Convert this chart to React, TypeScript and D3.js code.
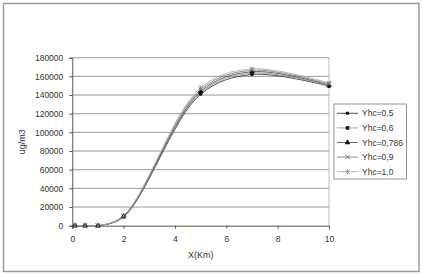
import { useEffect, useRef } from 'react';
import * as d3 from 'd3';

const xValues = [0.1, 0.5, 1, 2, 5, 7, 10];
const seriesNames = ['Yhc=0,5', 'Yhc=0,6', 'Yhc=0,786', 'Yhc=0,9', 'Yhc=1,0'];
const yhc05 = [0, 0, 0, 9500, 141000, 162000, 149500];
const yhc06 = [0, 0, 0, 9800, 142500, 163500, 150000];
const yhc0786 = [0, 0, 0, 10000, 144000, 165000, 150800];
const yhc09 = [0, 0, 0, 10500, 146000, 166500, 151800];
const yhc10 = [0, 0, 0, 11000, 148000, 168000, 152800];
const xTicks = [0, 2, 4, 6, 8, 10];
const yTicks = [0, 20000, 40000, 60000, 80000, 100000, 120000, 140000, 160000, 180000];

const lineColors = ['#3a3a3a', '#9a9a9a', '#555555', '#808080', '#b0b0b0'];
const markerShapes = ['circle', 'square', 'triangle', 'x', 'star'];

function drawMarker(g, shape, x, y) {
  if (shape === 'circle') {
    g.append('circle').attr('cx', x).attr('cy', y).attr('r', 1.8).attr('fill', '#111');
  } else if (shape === 'square') {
    g.append('rect').attr('x', x - 1.8).attr('y', y - 1.8).attr('width', 3.6).attr('height', 3.6).attr('fill', '#111');
  } else if (shape === 'triangle') {
    g.append('path').attr('d', d3.symbol(d3.symbolTriangle, 14)()).attr('transform', `translate(${x},${y})`).attr('fill', '#111');
  } else if (shape === 'x') {
    g.append('path').attr('d', `M${x - 2.2},${y - 2.2}L${x + 2.2},${y + 2.2}M${x - 2.2},${y + 2.2}L${x + 2.2},${y - 2.2}`)
      .attr('stroke', '#555').attr('stroke-width', 0.8);
  } else {
    g.append('path').attr('d', `M${x - 2.2},${y - 2.2}L${x + 2.2},${y + 2.2}M${x - 2.2},${y + 2.2}L${x + 2.2},${y - 2.2}M${x},${y - 2.4}L${x},${y + 2.4}`)
      .attr('stroke', '#888').attr('stroke-width', 0.8);
  }
}

function App() {
  const svgRef = useRef();

  useEffect(() => {
    const width = 423;
    const height = 275;
    const margin = { top: 57.7, right: 94, bottom: 49.3, left: 72.3 };
    const font = '"Liberation Sans", Arial, sans-serif';

    const svg = d3.select(svgRef.current)
      .attr('width', width)
      .attr('height', height);

    svg.selectAll('*').remove();

    svg.append('rect').attr('width', width).attr('height', height).attr('fill', '#fff');
    svg.append('rect')
      .attr('x', 3.5).attr('y', 3.5).attr('width', 415.5).attr('height', 268)
      .attr('fill', 'none').attr('stroke', '#9a9a9a').attr('stroke-width', 1.5);

    const x = d3.scaleLinear().domain([0, 10]).range([margin.left, width - margin.right]);
    const y = d3.scaleLinear().domain([0, 180000]).range([height - margin.bottom, margin.top]);

    // grid
    svg.append('g')
      .selectAll('line')
      .data(yTicks.slice(1))
      .enter()
      .append('line')
      .attr('x1', x(0)).attr('x2', x(10))
      .attr('y1', d => y(d)).attr('y2', d => y(d))
      .attr('stroke', '#8c8c8c').attr('stroke-width', 0.9);

    svg.append('line')
      .attr('x1', x(10)).attr('x2', x(10))
      .attr('y1', y(0)).attr('y2', y(180000))
      .attr('stroke', '#b5b5b5').attr('stroke-width', 0.9);

    const yAxis = svg.append('g')
      .attr('transform', `translate(${x(0)},0)`)
      .call(d3.axisLeft(y).tickValues(yTicks).tickSize(3).tickPadding(6).tickFormat(d3.format('d')));
    const xAxis = svg.append('g')
      .attr('transform', `translate(0,${y(0)})`)
      .call(d3.axisBottom(x).tickValues(xTicks).tickSize(3).tickPadding(7).tickFormat(d3.format('d')));

    [xAxis, yAxis].forEach(a => {
      a.select('.domain').attr('stroke', '#555').attr('stroke-width', 1);
      a.selectAll('.tick line').attr('stroke', '#555');
      a.selectAll('text').attr('font-family', font).attr('font-size', 8.5).attr('fill', '#333');
    });

    svg.append('text')
      .attr('x', (x(0) + x(10)) / 2).attr('y', 258)
      .attr('text-anchor', 'middle')
      .attr('font-family', font).attr('font-size', 9).attr('fill', '#333')
      .text('X(Km)');

    svg.append('text')
      .attr('transform', `translate(25,${(y(0) + y(180000)) / 2}) rotate(-90)`)
      .attr('text-anchor', 'middle')
      .attr('font-family', font).attr('font-size', 9).attr('fill', '#333')
      .text('ug/m3');

    const allSeries = [yhc05, yhc06, yhc0786, yhc09, yhc10];
    const line = d3.line()
      .x(d => x(d[0]))
      .y(d => y(d[1]))
      .curve(d3.curveCatmullRom.alpha(0.5));

    allSeries.forEach((vals, i) => {
      const pts = xValues.map((xv, j) => [xv, vals[j]]);
      svg.append('path')
        .attr('d', line(pts))
        .attr('fill', 'none')
        .attr('stroke', lineColors[i])
        .attr('stroke-width', 0.9);
    });

    allSeries.forEach((vals, i) => {
      const g = svg.append('g');
      xValues.forEach((xv, j) => drawMarker(g, markerShapes[i], x(xv), y(vals[j])));
    });

    // legend
    const legend = svg.append('g');
    legend.append('rect')
      .attr('x', 334).attr('y', 104).attr('width', 72.5).attr('height', 75)
      .attr('fill', '#fff').attr('stroke', '#888').attr('stroke-width', 0.9);

    seriesNames.forEach((name, i) => {
      const ly = 113.3 + i * 14.6;
      legend.append('line')
        .attr('x1', 337).attr('x2', 358).attr('y1', ly).attr('y2', ly)
        .attr('stroke', lineColors[i]).attr('stroke-width', 0.9);
      drawMarker(legend, markerShapes[i], 347.5, ly);
      legend.append('text')
        .attr('x', 362).attr('y', ly + 3)
        .attr('font-family', font).attr('font-size', 8.5).attr('fill', '#333')
        .text(name);
    });
  }, []);

  return <svg ref={svgRef} style={{ position: 'absolute', left: 0, top: 0 }}></svg>;
}

export default App;
